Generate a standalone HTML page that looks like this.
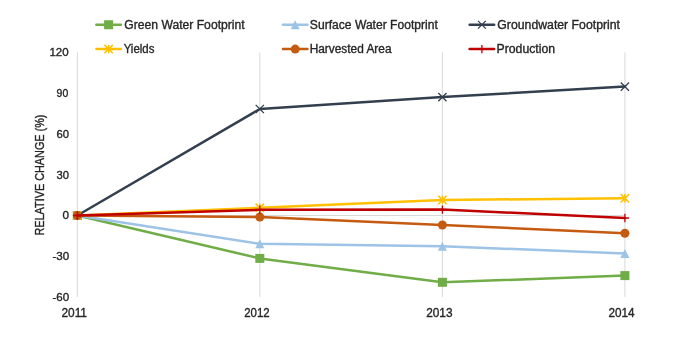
<!DOCTYPE html>
<html><head><meta charset="utf-8"><style>
html,body{margin:0;padding:0;background:#fff;width:675px;height:338px;overflow:hidden}
svg{display:block;will-change:transform}
text{font-family:"Liberation Sans",sans-serif;font-size:12px;fill:#262626;stroke:#262626;stroke-width:0.35px}
</style></head><body>
<svg width="675" height="338" viewBox="0 0 675 338">
<line x1="77.3" y1="52.4" x2="77.3" y2="297" stroke="#d9d9d9" stroke-width="1"/>
<line x1="259.8" y1="52.4" x2="259.8" y2="297" stroke="#d9d9d9" stroke-width="1"/>
<line x1="442.4" y1="52.4" x2="442.4" y2="297" stroke="#d9d9d9" stroke-width="1"/>
<line x1="624.9" y1="52.4" x2="624.9" y2="297" stroke="#d9d9d9" stroke-width="1"/>
<line x1="77.3" y1="215.5" x2="624.9" y2="215.5" stroke="#d9d9d9" stroke-width="1"/>
<polyline points="77.3,215.5 259.8,258.4 442.4,282.3 624.9,275.6" fill="none" stroke="#70ad47" stroke-width="2.5" stroke-linejoin="round" stroke-linecap="round"/>
<rect x="72.8" y="211.0" width="9" height="9" fill="#70ad47"/>
<rect x="255.3" y="253.89999999999998" width="9" height="9" fill="#70ad47"/>
<rect x="437.9" y="277.8" width="9" height="9" fill="#70ad47"/>
<rect x="620.4" y="271.1" width="9" height="9" fill="#70ad47"/>
<polyline points="77.3,215.5 259.8,243.8 442.4,246.2 624.9,253.5" fill="none" stroke="#9dc3e6" stroke-width="2.5" stroke-linejoin="round" stroke-linecap="round"/>
<path d="M77.3 211.0 L81.8 220.0 L72.8 220.0Z" fill="#9dc3e6"/>
<path d="M259.8 239.3 L264.3 248.3 L255.3 248.3Z" fill="#9dc3e6"/>
<path d="M442.4 241.7 L446.9 250.7 L437.9 250.7Z" fill="#9dc3e6"/>
<path d="M624.9 249.0 L629.4 258.0 L620.4 258.0Z" fill="#9dc3e6"/>
<polyline points="77.3,215.5 259.8,109 442.4,97.1 624.9,86.6" fill="none" stroke="#323f4f" stroke-width="2.5" stroke-linejoin="round" stroke-linecap="round"/>
<path d="M73.2 211.4L81.39999999999999 219.6M81.39999999999999 211.4L73.2 219.6" stroke="#323f4f" stroke-width="1.3" fill="none"/>
<path d="M255.70000000000002 104.9L263.90000000000003 113.1M263.90000000000003 104.9L255.70000000000002 113.1" stroke="#323f4f" stroke-width="1.3" fill="none"/>
<path d="M438.29999999999995 93.0L446.5 101.19999999999999M446.5 93.0L438.29999999999995 101.19999999999999" stroke="#323f4f" stroke-width="1.3" fill="none"/>
<path d="M620.8 82.5L629.0 90.69999999999999M629.0 82.5L620.8 90.69999999999999" stroke="#323f4f" stroke-width="1.3" fill="none"/>
<polyline points="77.3,215.5 259.8,207.8 442.4,200 624.9,198.3" fill="none" stroke="#ffc000" stroke-width="2.5" stroke-linejoin="round" stroke-linecap="round"/>
<path d="M73.1 211.3L81.5 219.7M81.5 211.3L73.1 219.7M77.3 211.3L77.3 219.7" stroke="#ffc000" stroke-width="1.5" fill="none"/>
<path d="M255.60000000000002 203.60000000000002L264.0 212.0M264.0 203.60000000000002L255.60000000000002 212.0M259.8 203.60000000000002L259.8 212.0" stroke="#ffc000" stroke-width="1.5" fill="none"/>
<path d="M438.2 195.8L446.59999999999997 204.2M446.59999999999997 195.8L438.2 204.2M442.4 195.8L442.4 204.2" stroke="#ffc000" stroke-width="1.5" fill="none"/>
<path d="M620.6999999999999 194.10000000000002L629.1 202.5M629.1 194.10000000000002L620.6999999999999 202.5M624.9 194.10000000000002L624.9 202.5" stroke="#ffc000" stroke-width="1.5" fill="none"/>
<polyline points="77.3,215.5 259.8,217 442.4,225 624.9,233.2" fill="none" stroke="#c55a11" stroke-width="2.5" stroke-linejoin="round" stroke-linecap="round"/>
<circle cx="77.3" cy="215.5" r="4.5" fill="#c55a11"/>
<circle cx="259.8" cy="217" r="4.5" fill="#c55a11"/>
<circle cx="442.4" cy="225" r="4.5" fill="#c55a11"/>
<circle cx="624.9" cy="233.2" r="4.5" fill="#c55a11"/>
<polyline points="77.3,215.5 259.8,209.8 442.4,209.6 624.9,218" fill="none" stroke="#c00000" stroke-width="2.5" stroke-linejoin="round" stroke-linecap="round"/>
<path d="M73.1 215.5L81.5 215.5M77.3 211.3L77.3 219.7" stroke="#c00000" stroke-width="1.3" fill="none"/>
<path d="M255.60000000000002 209.8L264.0 209.8M259.8 205.60000000000002L259.8 214.0" stroke="#c00000" stroke-width="1.3" fill="none"/>
<path d="M438.2 209.6L446.59999999999997 209.6M442.4 205.4L442.4 213.79999999999998" stroke="#c00000" stroke-width="1.3" fill="none"/>
<path d="M620.6999999999999 218L629.1 218M624.9 213.8L624.9 222.2" stroke="#c00000" stroke-width="1.3" fill="none"/>
<text x="49.46" y="56.2" textLength="19.270000000000003" lengthAdjust="spacingAndGlyphs" style="font-size:11.4px">120</text>
<text x="56.62" y="96.9" textLength="11.619999999999997" lengthAdjust="spacingAndGlyphs" style="font-size:11.4px">90</text>
<text x="56.41" y="137.7" textLength="12.549999999999997" lengthAdjust="spacingAndGlyphs" style="font-size:11.4px">60</text>
<text x="56.47" y="178.5" textLength="12.5" lengthAdjust="spacingAndGlyphs" style="font-size:11.4px">30</text>
<text x="62.44" y="219.29999999999998" textLength="6.5" lengthAdjust="spacingAndGlyphs" style="font-size:11.4px">0</text>
<text x="52.48" y="260.0" textLength="16.79" lengthAdjust="spacingAndGlyphs" style="font-size:11.4px">-30</text>
<text x="52.41" y="300.8" textLength="16.689999999999998" lengthAdjust="spacingAndGlyphs" style="font-size:11.4px">-60</text>
<text x="61.42" y="317" textLength="25.58" lengthAdjust="spacingAndGlyphs">2011</text>
<text x="244.2" y="317" textLength="25.430000000000007" lengthAdjust="spacingAndGlyphs">2012</text>
<text x="426.14" y="317" textLength="26.379999999999995" lengthAdjust="spacingAndGlyphs">2013</text>
<text x="608.39" y="317" textLength="26.139999999999986" lengthAdjust="spacingAndGlyphs">2014</text>
<text transform="translate(44.3,235.5) rotate(-90)" textLength="121" lengthAdjust="spacingAndGlyphs">RELATIVE CHANGE (%)</text>
<line x1="96.35" y1="24.75" x2="120.85" y2="24.75" stroke="#70ad47" stroke-width="2.5" stroke-linecap="round"/>
<rect x="104.1" y="20.25" width="9" height="9" fill="#70ad47"/>
<text x="124.27" y="28.9" textLength="120.36999999999999" lengthAdjust="spacingAndGlyphs">Green Water Footprint</text>
<line x1="282.95" y1="24.75" x2="307.45" y2="24.75" stroke="#9dc3e6" stroke-width="2.5" stroke-linecap="round"/>
<path d="M295.2 20.25 L299.7 29.25 L290.7 29.25Z" fill="#9dc3e6"/>
<text x="309.88" y="28.9" textLength="127.95999999999998" lengthAdjust="spacingAndGlyphs">Surface Water Footprint</text>
<line x1="469.65" y1="24.75" x2="494.15" y2="24.75" stroke="#323f4f" stroke-width="2.5" stroke-linecap="round"/>
<path d="M478.0 20.85L485.79999999999995 28.65M485.79999999999995 20.85L478.0 28.65" stroke="#323f4f" stroke-width="1.3" fill="none"/>
<text x="497.33" y="28.9" textLength="122.67000000000002" lengthAdjust="spacingAndGlyphs">Groundwater Footprint</text>
<line x1="96.35" y1="49.1" x2="120.85" y2="49.1" stroke="#ffc000" stroke-width="2.5" stroke-linecap="round"/>
<path d="M104.39999999999999 44.9L112.8 53.300000000000004M112.8 44.9L104.39999999999999 53.300000000000004M108.6 44.9L108.6 53.300000000000004" stroke="#ffc000" stroke-width="1.5" fill="none"/>
<text x="123.65" y="52.8" textLength="30.80000000000001" lengthAdjust="spacingAndGlyphs">Yields</text>
<line x1="282.95" y1="49.1" x2="307.45" y2="49.1" stroke="#c55a11" stroke-width="2.5" stroke-linecap="round"/>
<circle cx="295.2" cy="49.1" r="4.5" fill="#c55a11"/>
<text x="309.71" y="52.8" textLength="81.80000000000001" lengthAdjust="spacingAndGlyphs">Harvested Area</text>
<line x1="469.65" y1="49.1" x2="494.15" y2="49.1" stroke="#c00000" stroke-width="2.5" stroke-linecap="round"/>
<path d="M477.7 49.1L486.09999999999997 49.1M481.9 44.9L481.9 53.300000000000004" stroke="#c00000" stroke-width="1.3" fill="none"/>
<text x="496.53" y="52.8" textLength="58.549999999999955" lengthAdjust="spacingAndGlyphs">Production</text>
</svg></body></html>
